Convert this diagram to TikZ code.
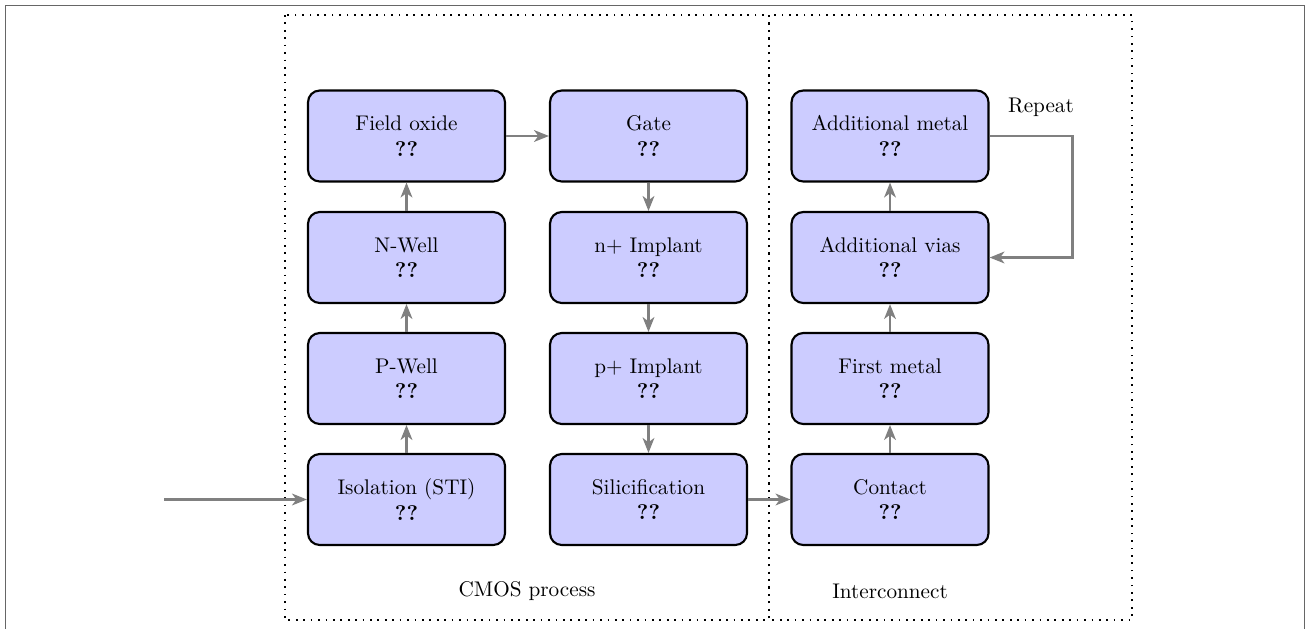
\documentclass[tikz,border=0pt]{standalone}
\usetikzlibrary{arrows.meta}
\begin{document}
\begin{tikzpicture}[x=0.4717pt,y=-0.4717pt,
  stepbox/.style={draw=black,line width=1pt,fill=blue!20,rounded corners=5.5pt,
    minimum width=92.9pt,minimum height=42.9pt,align=center,inner sep=0pt,font=\normalsize},
  flow/.style={draw=gray,line width=1.4pt,-{Stealth[length=7pt,width=5.5pt,inset=2pt]}},
  region/.style={draw=black,line width=0.8pt,dash pattern=on 0.8pt off 2.7pt}]
\useasboundingbox (0,0) rectangle (1309,628);
% outer frame
\draw[gray!80!black,line width=0.9pt] (5.5,640) -- (5.5,5.5) -- (1304.5,5.5) -- (1304.5,640);
% regions
\draw[region] (285,15) rectangle (769,620);
\draw[region] (769,15) rectangle (1132,620);
\node (cmoslbl) at (527,591) {CMOS process};
\node (intlbl) at (890,591) {Interconnect};
% column 1
\node[stepbox] (fox) at (406.5,136) {Field oxide\\\textbf{??}};
\node[stepbox] (nwell) at (406.5,257.5) {N-Well\\\textbf{??}};
\node[stepbox] (pwell) at (406.5,378.5) {P-Well\\\textbf{??}};
\node[stepbox] (iso) at (406.5,499.5) {Isolation (STI)\\\textbf{??}};
% column 2
\node[stepbox] (gate) at (648.5,136) {Gate\\\textbf{??}};
\node[stepbox] (nimp) at (648.5,257.5) {n+ Implant\\\textbf{??}};
\node[stepbox] (pimp) at (648.5,378.5) {p+ Implant\\\textbf{??}};
\node[stepbox] (sil) at (648.5,499.5) {Silicification\\\textbf{??}};
% column 3
\node[stepbox] (addm) at (890,136) {Additional metal\\\textbf{??}};
\node[stepbox] (addv) at (890,257.5) {Additional vias\\\textbf{??}};
\node[stepbox] (m1) at (890,378.5) {First metal\\\textbf{??}};
\node[stepbox] (cont) at (890,499.5) {Contact\\\textbf{??}};
\node (rep) at (1041,107) {Repeat};
% connectors
\coordinate (in) at (164,499.5);
\draw[flow] (in) -- (iso);
\draw[flow] (iso) -- (pwell);
\draw[flow] (pwell) -- (nwell);
\draw[flow] (nwell) -- (fox);
\draw[flow] (fox) -- (gate);
\draw[flow] (gate) -- (nimp);
\draw[flow] (nimp) -- (pimp);
\draw[flow] (pimp) -- (sil);
\draw[flow] (sil) -- (cont);
\draw[flow] (cont) -- (m1);
\draw[flow] (m1) -- (addv);
\draw[flow] (addv) -- (addm);
\coordinate (lp) at (1072,0);
\draw[flow] (addm.east) -- (addm.east -| lp) -- (addv.east -| lp) -- (addv.east);
\end{tikzpicture}
\end{document}
